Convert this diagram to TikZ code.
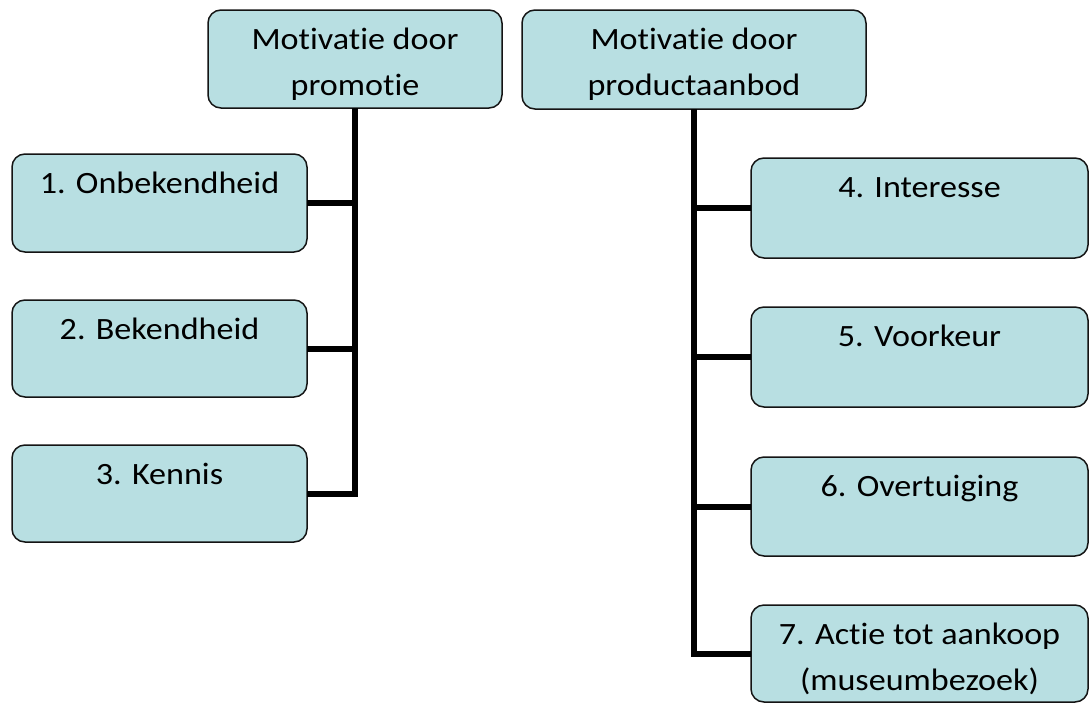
\documentclass[tikz,border=0pt]{standalone}
\usepackage{fontspec}
\setmainfont[FakeStretch=1.1,Ligatures=NoCommon]{Carlito}
\definecolor{boxfill}{RGB}{184,223,226}
\definecolor{boxline}{RGB}{20,20,20}
% text block of a card: fixed width and height, lines hung from the top
\newcommand{\cardtext}[3]{%
  \begin{minipage}[t][#2][t]{#1}\centering
    \fontsize{31pt}{46pt}\selectfont\rule{0pt}{39pt}#3%
  \end{minipage}}
\tikzset{
  card/.style={draw=boxline, line width=1.5pt, fill=boxfill,
    rounded corners=13pt, anchor=north west, inner sep=0pt, outer sep=0pt},
  conn/.style={draw=black, line width=6pt, line join=miter}
}
\begin{document}
\begin{tikzpicture}[x=1pt,y=-1pt]
\useasboundingbox (0,0) rectangle (1089,704);

% top-level cards
\node[card] (T1) at (208,10) {\cardtext{294pt}{98pt}{Motivatie door\\promotie}};
\node[card] (T2) at (522,10) {\cardtext{344pt}{99pt}{Motivatie door\\productaanbod}};

% promotion stages
\node[card] (L1) at (12,154) {\cardtext{295pt}{98pt}{1. Onbekendheid}};
\node[card] (L2) at (12,300) {\cardtext{295pt}{97pt}{2. Bekendheid}};
\node[card] (L3) at (12,445) {\cardtext{295pt}{97pt}{3. Kennis}};

% product-offer stages
\node[card] (R4) at (751,158) {\cardtext{337pt}{100pt}{4. Interesse}};
\node[card] (R5) at (751,307) {\cardtext{337pt}{100pt}{5. Voorkeur}};
\node[card] (R6) at (751,457) {\cardtext{337pt}{99pt}{6. Overtuiging}};
\node[card] (R7) at (751,605) {\cardtext{337pt}{97pt}{7. Actie tot aankoop\\(museumbezoek)}};

% left tree
\draw[conn] (T1.south) -- (T1.south |- L3.east) -- (L3.east);
\draw[conn] (L1.east) -- (L1.east -| T1.south);
\draw[conn] (L2.east) -- (L2.east -| T1.south);

% right tree
\draw[conn] (T2.south) -- (T2.south |- R7.west) -- (R7.west);
\draw[conn] (R4.west) -- (R4.west -| T2.south);
\draw[conn] (R5.west) -- (R5.west -| T2.south);
\draw[conn] (R6.west) -- (R6.west -| T2.south);
\end{tikzpicture}
\end{document}
